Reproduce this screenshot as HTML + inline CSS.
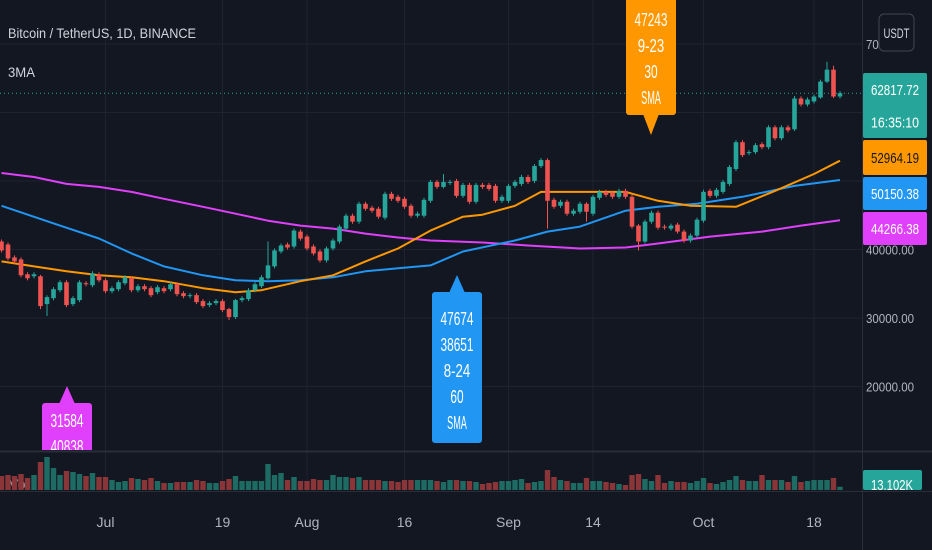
<!DOCTYPE html>
<html><head><meta charset="utf-8">
<style>
html,body{margin:0;padding:0;background:#131722;}
svg{display:block;font-family:"Liberation Sans",sans-serif;}
</style></head>
<body>
<svg id="chart" width="932" height="550" viewBox="0 0 932 550" xmlns="http://www.w3.org/2000/svg">
<rect x="0" y="0" width="932" height="550" fill="#131722"/>
<g id="grid"></g>
<g id="vol"></g>
<g id="mas"></g>
<g id="candles"></g>
<g id="labels"></g>
<g id="axis"></g>
<text x="8" y="38" font-size="14" fill="#d1d4dc" textLength="188" lengthAdjust="spacingAndGlyphs">Bitcoin / TetherUS, 1D, BINANCE</text>
<text x="8" y="77" font-size="14" fill="#d1d4dc" textLength="27" lengthAdjust="spacingAndGlyphs">3MA</text>
</svg>
<script>
const opens=[41165,40730,38845,38555,36380,36090,36090,32030,32900,34060,
35220,32030,32610,35075,34785,36380,35510,33915,34205,35075,
35800,34060,34640,34350,33770,34350,34205,34930,33625,33190,
33335,32465,31885,32175,32465,31305,30145,32610,32755,34060,
34640,35800,37540,39715,40730,40440,42615,41890,40440,39715,
38410,40150,41165,43050,44935,44065,46675,46095,45950,44645,
48125,47690,47400,46385,44935,44935,47110,49865,49140,49720,
50010,47835,49430,46965,49430,49430,49285,47110,47110,49285,
49575,50590,50010,52185,53055,47255,46385,46965,45225,45515,
46675,45225,47545,48415,48270,47690,48560,47690,43485,41165,
44065,45370,43340,43050,43630,42615,41310,42035,44210,48560,
47835,48415,49575,51750,55665,54070,54215,55375,54940,57840,
56245,57840,57550,62045,61175,61610,62190,64510,66250,62335];
const closes=[39860,38700,38265,36235,35800,36380,31740,33045,34205,35220,
31885,32900,35220,34930,36525,35510,33915,34350,35220,35945,
34060,34640,34205,33335,34495,33915,34930,33480,33190,33335,
32320,31740,32175,32465,31160,30145,32610,32900,34060,34930,
35945,37685,39860,40585,40295,42760,41600,40150,39425,38410,
40150,41310,43340,44935,44065,46675,45950,45660,44790,48125,
47400,47110,46240,44935,45225,47255,49865,49140,49865,49865,
47835,49430,46965,49430,49140,48850,47110,47690,49285,49865,
50590,49865,52185,53055,47110,46240,46965,45225,45660,46675,
45515,47690,48415,47980,47690,48560,47690,43340,41165,44065,
45370,43195,43195,43485,42615,41310,42035,44355,48415,47835,
48705,49865,52040,55665,53780,54215,55230,54940,57840,56245,
57840,57405,62045,61175,61900,62335,64510,66250,62335,62818];
const wickIdx=[6,7,35,36,41,68,84,90,98,122,126,127,128];
const wickHigh=[36300,33300,31500,32800,41165,51025,53300,46900,43700,62400,64800,67410,66830];
const wickLow=[31300,30290,29700,29850,35600,48900,43050,44065,39860,57300,62000,64300,62100];
const volumes=[56,60,56,64,48,60,112,132,88,60,
76,72,64,56,68,52,52,40,32,36,
48,44,40,48,36,28,28,32,32,32,
40,36,28,28,36,44,56,36,36,36,
36,104,60,68,40,52,36,36,44,40,
40,60,52,52,48,52,40,40,40,36,
36,32,40,40,40,40,40,36,32,40,
40,36,36,32,24,28,32,36,36,40,
44,28,32,36,80,52,40,36,28,28,
48,36,36,32,28,24,20,60,64,44,
36,60,28,36,32,32,28,36,48,28,
24,32,40,56,40,36,36,60,40,40,
40,32,56,32,36,40,40,40,48,13.1];
const sma30Idx=[0,5,10,15,20,25,31,36,40,46,51,56,61,66,71,74,79,83,89,96,101,106,113,119,125,129];
const sma30Val=[38265,37540,36815,36235,35945,35365,34350,33770,34060,35365,36235,38265,40150,42760,44790,45080,46385,48415,48415,48415,47110,46385,46240,48560,51025,52964];
const sma60Idx=[0,9,15,20,25,31,36,41,46,51,56,61,66,71,79,84,89,96,101,107,114,122,129];
const sma60Val=[46385,43485,41600,39425,37540,36235,35510,35365,35510,35945,36815,37250,37685,39715,41310,42615,43340,45660,46240,46675,47690,49285,50150];
const sma100Idx=[0,5,10,15,20,25,31,36,41,46,51,56,61,66,74,81,89,96,101,109,117,123,129];
const sma100Val=[51170,50590,49575,49140,48415,47400,46240,45225,44210,43485,43050,42325,41745,41310,41020,40585,40150,40295,40875,41890,42615,43485,44266];
const priceTicks=[20000,30000,40000,50000,60000,70000];
const priceTickLabels=["20000.00","30000.00","40000.00","50000.00","60000.00","70000.00"];
const timeTickIdx=[16,34,47,62,78,91,108,125];
const timeTickLabels=["Jul","19","Aug","16","Sep","14","Oct","18"];
const lastPrice=62817.72;

const NS="http://www.w3.org/2000/svg";
const PANE_R=862, VOL_BASE=490;
function xAt(i){return 1.5+i*6.5;}
function yP(p){return 318-(p-30000)*0.00685;}
function vH(v){return v*0.25;}
function mk(tag,attrs,parent){const e=document.createElementNS(NS,tag);for(const k in attrs)e.setAttribute(k,attrs[k]);parent.appendChild(e);return e;}

const grid=document.getElementById('grid');
priceTicks.forEach((p,i)=>{
  const l=mk('line',{x1:0,x2:PANE_R,y1:yP(p),y2:yP(p),stroke:'#1f2330','stroke-width':1},grid);
  
  
});
timeTickIdx.forEach((k,i)=>{
  const l=mk('line',{x1:xAt(k),x2:xAt(k),y1:0,y2:491,stroke:'#1f2330','stroke-width':1},grid);
  
  
  const t=mk('text',{x:xAt(k),y:527,'font-size':14,fill:'#b2b5be','text-anchor':'middle'},grid);
  
  
  t.textContent=timeTickLabels[i];
});
// separators
const s1=mk('line',{x1:0,x2:932,y1:451.5,y2:451.5,stroke:'#2a2e39','stroke-width':2},grid);


const s2=mk('line',{x1:0,x2:932,y1:491.5,y2:491.5,stroke:'#2a2e39','stroke-width':1},grid);


const s3=mk('line',{x1:PANE_R+0.5,x2:PANE_R+0.5,y1:0,y2:550,stroke:'#2a2e39','stroke-width':1},grid);



// volume
const vol=document.getElementById('vol');
const vt=mk('text',{x:9,y:489,'font-size':14,fill:'#b2b5be'},vol);


vt.textContent='Vol';
volumes.forEach((v,i)=>{
  const up=closes[i]>=opens[i];
  const r=mk('rect',{x:xAt(i)-2.7,y:VOL_BASE-vH(v),width:5.4,height:vH(v),fill:up?'#1e6b64':'#8a3537'},vol);
  
  
});

// MAs
const mas=document.getElementById('mas');
function drawMA(idx,val,color,name){
  const d=idx.map((k,i)=>(i?'L':'M')+xAt(k).toFixed(1)+' '+yP(val[i]).toFixed(1)).join(' ');
  const p=mk('path',{d:d,fill:'none',stroke:color,'stroke-width':2,'stroke-linejoin':'round'},mas);
  
  
}
drawMA(sma100Idx,sma100Val,'#e040fb','sma-100-line');
drawMA(sma60Idx,sma60Val,'#2196f3','sma-60-line');
drawMA(sma30Idx,sma30Val,'#ff9800','sma-30-line');

// price line
const pl=mk('line',{x1:0,x2:PANE_R,y1:yP(lastPrice),y2:yP(lastPrice),stroke:'#26a69a','stroke-width':1,'stroke-dasharray':'1 3'},mas);



// candles
const cg=document.getElementById('candles');
opens.forEach((o,i)=>{
  const c=closes[i];const up=c>=o;const col=up?'#26a69a':'#ef5350';
  let hi=Math.max(o,c)+300, lo=Math.min(o,c)-300;
  const w=wickIdx.indexOf(i); if(w>=0){hi=wickHigh[w];lo=wickLow[w];}
  const g=mk('g',{},cg);
  
  
  mk('line',{x1:xAt(i),x2:xAt(i),y1:yP(hi),y2:yP(lo),stroke:col,'stroke-width':1},g);
  const top=yP(Math.max(o,c)),bot=yP(Math.min(o,c));
  mk('rect',{x:xAt(i)-2.3,y:top,width:4.6,height:Math.max(1,bot-top),fill:col},g);
});

// MA labels
const lg=document.getElementById('labels');
function label(x,boxTop,boxBot,tip,up,color,lines,lineY0,name){
  const g=mk('g',{},lg);
  
  
  mk('rect',{x:x-25,y:boxTop,width:50,height:boxBot-boxTop,rx:3,fill:color},g);
  if(up) mk('path',{d:`M${x-8} ${boxTop+1} L${x} ${tip} L${x+8} ${boxTop+1} Z`,fill:color},g);
  else mk('path',{d:`M${x-8} ${boxBot-1} L${x} ${tip} L${x+8} ${boxBot-1} Z`,fill:color},g);
  lines.forEach((s,j)=>{
    const t=mk('text',{x:x,y:lineY0+j*26+7,'font-size':18,fill:'#ffffff','text-anchor':'middle',textLength:s.length*6.6,lengthAdjust:'spacingAndGlyphs'},g);
    t.textContent=s;
  });
}
const cp=document.createElementNS(NS,'clipPath');cp.setAttribute('id','mainclip');
mk('rect',{x:0,y:0,width:PANE_R,height:450},cp);document.getElementById('chart').appendChild(cp);
lg.setAttribute('clip-path','url(#mainclip)');
label(457,292,443,275,true,'#2196f3',['47674','38651','8-24','60','SMA'],318,'sma-60-label');
label(651,-40,115,135,false,'#ff9800',['47656','47243','9-23','30','SMA'],-7,'sma-30-label');
label(67,403,500,386,true,'#e040fb',['31584','40838'],420,'sma-100-label');

// price axis
const ax=document.getElementById('axis');
priceTicks.forEach((p,i)=>{
  const t=mk('text',{x:866,y:yP(p)+5,'font-size':13,fill:'#b2b5be',textLength:48,lengthAdjust:'spacingAndGlyphs'},ax);
  
  
  t.textContent=priceTickLabels[i];
});
function axisBox(y1,y2,color,texts,tcolor,name){
  const g=mk('g',{},ax);
  
  
  mk('rect',{x:863,y:y1,width:64,height:y2-y1,rx:2,fill:color},g);
  const n=texts.length, h=(y2-y1)/n;
  texts.forEach((s,j)=>{
    const t=mk('text',{x:895,y:y1+h*j+h/2+5.5,'font-size':15,fill:tcolor,'text-anchor':'middle',textLength:s.length*6,lengthAdjust:'spacingAndGlyphs'},g);
    t.textContent=s;
  });
}
axisBox(73,138,'#26a69a',['62817.72','16:35:10'],'#ffffff','last-price-box');
axisBox(140,175,'#ff9800',['52964.19'],'#131722','sma-30-value-box');
axisBox(177,210,'#2196f3',['50150.38'],'#ffffff','sma-60-value-box');
axisBox(212,245,'#e040fb',['44266.38'],'#ffffff','sma-100-value-box');
const vb=mk('g',{},ax);


mk('rect',{x:863,y:470,width:59,height:20,rx:2,fill:'#26a69a'},vb);
const vbt=mk('text',{x:892,y:490,'font-size':15,fill:'#ffffff','text-anchor':'middle',textLength:42,lengthAdjust:'spacingAndGlyphs'},vb);
vbt.textContent='13.102K';
const cur=mk('g',{},ax);


mk('rect',{x:879,y:14,width:35,height:37,rx:5,fill:'#131722',stroke:'#434651','stroke-width':1},cur);
const ct=mk('text',{x:896.5,y:38,'font-size':14,fill:'#d1d4dc','text-anchor':'middle',textLength:26,lengthAdjust:'spacingAndGlyphs'},cur);
ct.textContent='USDT';
</script>
</body></html>
